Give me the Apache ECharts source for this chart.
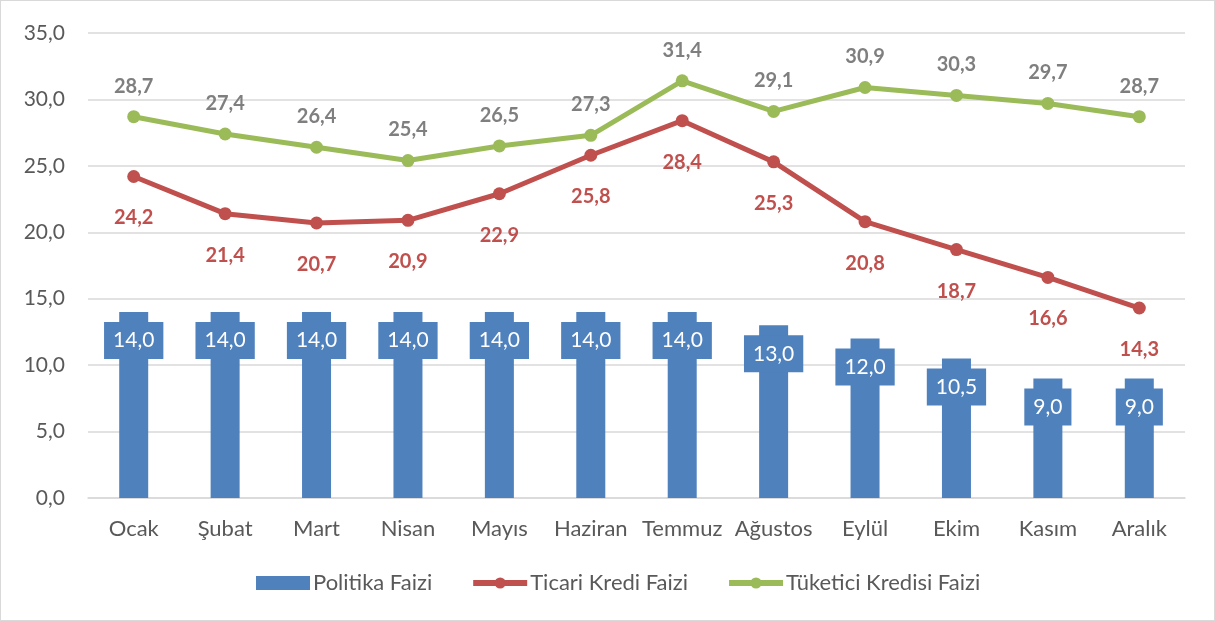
<!DOCTYPE html>
<html>
<head>
<meta charset="utf-8">
<script src="https://cdn.jsdelivr.net/npm/echarts@6/dist/echarts.min.js"></script>
<style>
  html, body { margin: 0; padding: 0; background: #fff; }
  #container { width: 1215px; height: 621px; box-sizing: border-box; border: 1px solid #D9D9D9; margin: 0; }
</style>
</head>
<body>
<div id="container"></div>
<script>
var months = ['Ocak', 'Şubat', 'Mart', 'Nisan', 'Mayıs', 'Haziran', 'Temmuz', 'Ağustos', 'Eylül', 'Ekim', 'Kasım', 'Aralık'];
var politikaFaizi = [14.0, 14.0, 14.0, 14.0, 14.0, 14.0, 14.0, 13.0, 12.0, 10.5, 9.0, 9.0];
var ticariKredi = [24.2, 21.4, 20.7, 20.9, 22.9, 25.8, 28.4, 25.3, 20.8, 18.7, 16.6, 14.3];
var tuketiciKredi = [28.7, 27.4, 26.4, 25.4, 26.5, 27.3, 31.4, 29.1, 30.9, 30.3, 29.7, 28.7];

function fmt(p) { return p.value.toFixed(1).replace('.', ','); }

var font = 'Lato, "Open Sans", sans-serif';
var dom = document.getElementById('container');
var myChart = echarts.init(dom);
var option = {
    animation: false,
    textStyle: { fontFamily: font },
    grid: { left: 87, right: 29, top: 32, bottom: 122 },
    legend: {
        bottom: 21,
        left: 250,
        itemGap: 38,
        itemWidth: 54,
        itemHeight: 14,
        textStyle: { fontSize: 22, color: '#595959', fontFamily: font, padding: [0, 0, 0, -2] },
        data: [
            { name: 'Politika Faizi', icon: 'rect' },
            { name: 'Ticari Kredi Faizi', lineStyle: { width: 6 } },
            { name: 'Tüketici Kredisi Faizi', lineStyle: { width: 6 } }
        ]
    },
    xAxis: {
        type: 'category',
        data: months,
        axisLine: { lineStyle: { color: '#D9D9D9', width: 1.5 } },
        axisTick: { show: false },
        axisLabel: { interval: 0, fontSize: 22, color: '#595959', margin: 20, fontFamily: font }
    },
    yAxis: {
        type: 'value',
        min: 0,
        max: 35,
        interval: 5,
        axisLine: { show: false },
        axisTick: { show: false },
        splitLine: { lineStyle: { color: '#D9D9D9', width: 1.5 } },
        axisLabel: {
            fontSize: 21, color: '#595959', margin: 23, fontFamily: font,
            formatter: function (v) { return v.toFixed(1).replace('.', ','); }
        }
    },
    series: [
        {
            name: 'Politika Faizi',
            type: 'bar',
            barWidth: 29,
            data: politikaFaizi,
            itemStyle: { color: '#4F81BD' },
            label: {
                show: true,
                position: 'insideTop',
                distance: 10,
                formatter: fmt,
                color: '#fff',
                fontSize: 21,
                fontFamily: font,
                backgroundColor: '#4F81BD',
                padding: [8, 9, 8, 9]
            }
        },
        {
            name: 'Ticari Kredi Faizi',
            type: 'line',
            data: ticariKredi,
            symbol: 'circle',
            symbolSize: 13,
            lineStyle: { color: '#C0504D', width: 5 },
            itemStyle: { color: '#C0504D' },
            label: {
                show: true,
                position: 'bottom',
                distance: 25,
                formatter: fmt,
                color: '#C0504D',
                fontSize: 20,
                fontWeight: 'bold',
                fontFamily: font
            }
        },
        {
            name: 'Tüketici Kredisi Faizi',
            type: 'line',
            data: tuketiciKredi,
            symbol: 'circle',
            symbolSize: 13,
            lineStyle: { color: '#9BBB59', width: 5 },
            itemStyle: { color: '#9BBB59' },
            label: {
                show: true,
                position: 'top',
                distance: 14,
                formatter: fmt,
                color: '#7F7F7F',
                fontSize: 20,
                fontWeight: 'bold',
                fontFamily: font
            }
        }
    ]
};
myChart.setOption(option, true);
</script>
</body>
</html>
